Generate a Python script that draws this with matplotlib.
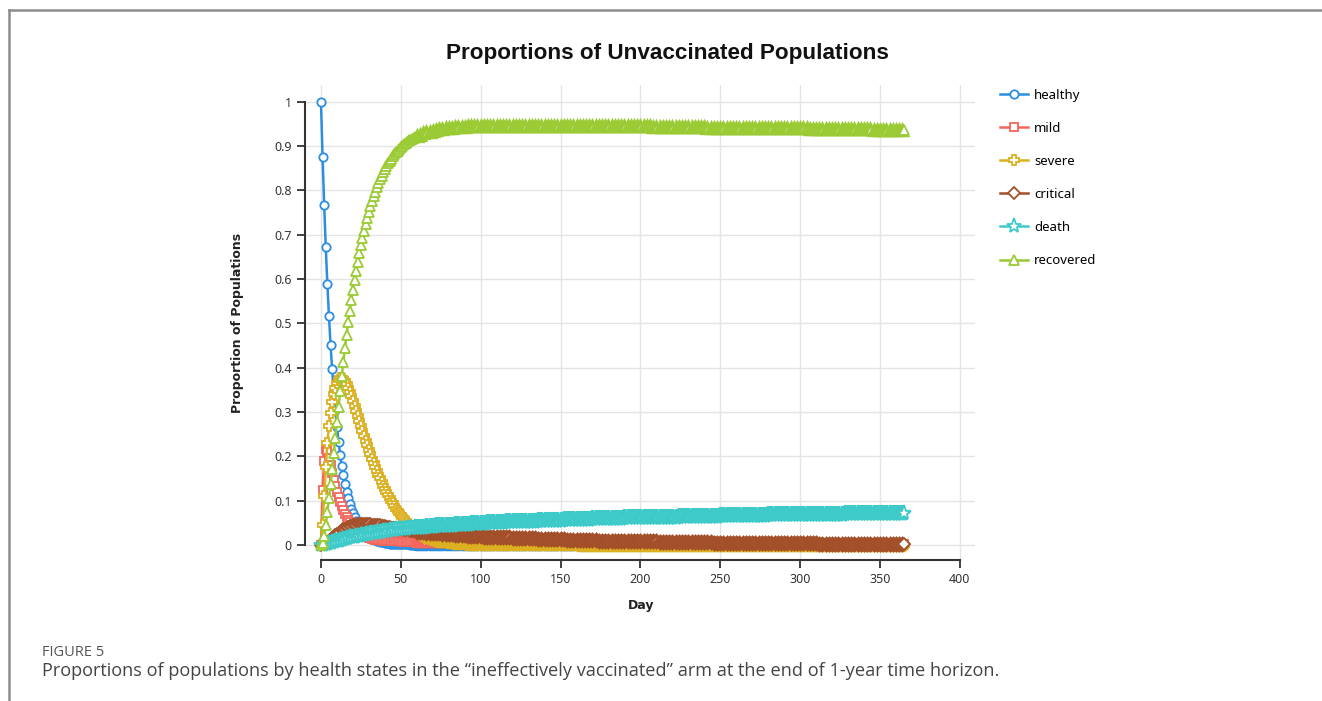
import matplotlib
matplotlib.use("Agg")
import matplotlib.pyplot as plt
from matplotlib.lines import Line2D

# daily output for the first two months, every second day afterwards
days = list(range(0, 61)) + list(range(62, 365, 2)) + [365]

healthy = [
    1.000, 0.876, 0.767, 0.672, 0.589, 0.516, 0.452, 0.396, 0.347, 0.304,
    0.266, 0.233, 0.204, 0.179, 0.157, 0.137, 0.120, 0.105, 0.092, 0.081,
    0.071, 0.062, 0.054, 0.048, 0.042, 0.036, 0.032, 0.028, 0.024, 0.021,
    0.019, 0.016, 0.014, 0.013, 0.011, 0.010, 0.008, 0.007, 0.006, 0.006,
    0.005, 0.004, 0.004, 0.003, 0.003, 0.003, 0.002, 0.002, 0.002, 0.002,
    0.001, 0.001, 0.001, 0.001, 0.001, 0.001, 0.000, 0.000, 0.000, 0.000,
    0.000,
    # day 62 onwards
    0, 0, 0, 0, 0, 0, 0, 0, 0, 0,
    0, 0, 0, 0, 0, 0, 0, 0, 0, 0,
    0, 0, 0, 0, 0, 0, 0, 0, 0, 0,
    0, 0, 0, 0, 0, 0, 0, 0, 0, 0,
    0, 0, 0, 0, 0, 0, 0, 0, 0, 0,
    0, 0, 0, 0, 0, 0, 0, 0, 0, 0,
    0, 0, 0, 0, 0, 0, 0, 0, 0, 0,
    0, 0, 0, 0, 0, 0, 0, 0, 0, 0,
    0, 0, 0, 0, 0, 0, 0, 0, 0, 0,
    0, 0, 0, 0, 0, 0, 0, 0, 0, 0,
    0, 0, 0, 0, 0, 0, 0, 0, 0, 0,
    0, 0, 0, 0, 0, 0, 0, 0, 0, 0,
    0, 0, 0, 0, 0, 0, 0, 0, 0, 0,
    0, 0, 0, 0, 0, 0, 0, 0, 0, 0,
    0, 0, 0, 0, 0, 0, 0, 0, 0, 0,
    0, 0, 0,
]

mild = [
    0.000, 0.125, 0.190, 0.216, 0.212, 0.197, 0.180, 0.163, 0.147, 0.133,
    0.120, 0.108, 0.097, 0.087, 0.078, 0.070, 0.063, 0.057, 0.051, 0.046,
    0.041, 0.037, 0.033, 0.030, 0.027, 0.024, 0.022, 0.020, 0.018, 0.017,
    0.016, 0.015, 0.014, 0.013, 0.012, 0.012, 0.011, 0.011, 0.010, 0.010,
    0.010, 0.009, 0.009, 0.009, 0.009, 0.008, 0.008, 0.008, 0.008, 0.008,
    0.008, 0.007, 0.007, 0.007, 0.007, 0.007, 0.007, 0.007, 0.007, 0.007,
    0.007,
    0.007, 0.007, 0.007, 0.007, 0.007, 0.006, 0.006, 0.006, 0.006, 0.006,
    0.006, 0.006, 0.006, 0.006, 0.006, 0.005, 0.005, 0.005, 0.005, 0.005,
    0.005, 0.005, 0.005, 0.005, 0.005, 0.005, 0.005, 0.005, 0.005, 0.005,
    0.005, 0.005, 0.005, 0.005, 0.005, 0.005, 0.005, 0.005, 0.005, 0.005,
    0.005, 0.005, 0.005, 0.005, 0.005, 0.005, 0.005, 0.005, 0.005, 0.005,
    0.004, 0.004, 0.004, 0.004, 0.004, 0.004, 0.004, 0.004, 0.004, 0.004,
    0.004, 0.004, 0.004, 0.004, 0.004, 0.004, 0.004, 0.004, 0.004, 0.004,
    0.004, 0.004, 0.004, 0.004, 0.004, 0.004, 0.004, 0.004, 0.004, 0.004,
    0.004, 0.004, 0.004, 0.004, 0.004, 0.004, 0.004, 0.004, 0.004, 0.004,
    0.003, 0.003, 0.003, 0.003, 0.003, 0.003, 0.003, 0.003, 0.003, 0.003,
    0.003, 0.003, 0.003, 0.003, 0.003, 0.003, 0.003, 0.003, 0.003, 0.003,
    0.003, 0.003, 0.003, 0.003, 0.003, 0.003, 0.003, 0.003, 0.003, 0.003,
    0.003, 0.003, 0.003, 0.003, 0.003, 0.003, 0.003, 0.003, 0.003, 0.003,
    0.002, 0.002, 0.002, 0.002, 0.002, 0.002, 0.002, 0.002, 0.002, 0.002,
    0.002, 0.002, 0.002, 0.002, 0.002, 0.002, 0.002, 0.002, 0.002, 0.002,
    0.002, 0.002, 0.002,
]

severe = [
    0.000, 0.045, 0.110, 0.175, 0.230, 0.268, 0.298, 0.322, 0.341, 0.355,
    0.365, 0.372, 0.376, 0.377, 0.375, 0.370, 0.363, 0.355, 0.345, 0.335,
    0.324, 0.313, 0.302, 0.291, 0.280, 0.268, 0.257, 0.246, 0.235, 0.225,
    0.215, 0.205, 0.195, 0.185, 0.176, 0.167, 0.158, 0.150, 0.142, 0.134,
    0.127, 0.120, 0.113, 0.106, 0.100, 0.094, 0.088, 0.082, 0.077, 0.072,
    0.067, 0.062, 0.058, 0.054, 0.050, 0.046, 0.043, 0.040, 0.037, 0.034,
    0.031,
    0.027, 0.023, 0.019, 0.016, 0.014, 0.012, 0.010, 0.009, 0.008, 0.007,
    0.006, 0.005, 0.005, 0.004, 0.004, 0.003, 0.003, 0.003, 0.002, 0.002,
    0.002, 0.002, 0.002, 0.002, 0.002, 0.001, 0.001, 0.001, 0.001, 0.001,
    0.001, 0.001, 0.001, 0.001, 0.001, 0.001, 0.001, 0.001, 0.001, 0.001,
    0.001, 0.001, 0.001, 0.001, 0.001, 0.001, 0.001, 0.001, 0.001, 0.001,
    0, 0, 0, 0, 0, 0, 0, 0, 0, 0,
    0, 0, 0, 0, 0, 0, 0, 0, 0, 0,
    0, 0, 0, 0, 0, 0, 0, 0, 0, 0,
    0, 0, 0, 0, 0, 0, 0, 0, 0, 0,
    0, 0, 0, 0, 0, 0, 0, 0, 0, 0,
    0, 0, 0, 0, 0, 0, 0, 0, 0, 0,
    0, 0, 0, 0, 0, 0, 0, 0, 0, 0,
    0, 0, 0, 0, 0, 0, 0, 0, 0, 0,
    0, 0, 0, 0, 0, 0, 0, 0, 0, 0,
    0, 0, 0, 0, 0, 0, 0, 0, 0, 0,
    0, 0, 0,
]

critical = [
    0.000, 0.001, 0.002, 0.004, 0.007, 0.010, 0.013, 0.016, 0.019, 0.022,
    0.025, 0.028, 0.030, 0.033, 0.035, 0.037, 0.039, 0.041, 0.042, 0.043,
    0.044, 0.045, 0.046, 0.047, 0.047, 0.048, 0.048, 0.048, 0.048, 0.048,
    0.047, 0.047, 0.046, 0.046, 0.045, 0.045, 0.044, 0.044, 0.043, 0.042,
    0.042, 0.041, 0.040, 0.040, 0.039, 0.038, 0.038, 0.037, 0.036, 0.036,
    0.035, 0.035, 0.034, 0.034, 0.033, 0.033, 0.032, 0.032, 0.031, 0.031,
    0.030,
    0.030, 0.029, 0.028, 0.028, 0.027, 0.026, 0.026, 0.025, 0.025, 0.024,
    0.024, 0.023, 0.023, 0.022, 0.022, 0.021, 0.021, 0.020, 0.020, 0.020,
    0.019, 0.019, 0.019, 0.018, 0.018, 0.018, 0.017, 0.017, 0.017, 0.016,
    0.016, 0.016, 0.016, 0.015, 0.015, 0.015, 0.015, 0.014, 0.014, 0.014,
    0.014, 0.013, 0.013, 0.013, 0.013, 0.013, 0.012, 0.012, 0.012, 0.012,
    0.012, 0.011, 0.011, 0.011, 0.011, 0.011, 0.010, 0.010, 0.010, 0.010,
    0.010, 0.010, 0.009, 0.009, 0.009, 0.009, 0.009, 0.009, 0.008, 0.008,
    0.008, 0.008, 0.008, 0.008, 0.008, 0.007, 0.007, 0.007, 0.007, 0.007,
    0.007, 0.007, 0.007, 0.006, 0.006, 0.006, 0.006, 0.006, 0.006, 0.006,
    0.006, 0.006, 0.005, 0.005, 0.005, 0.005, 0.005, 0.005, 0.005, 0.005,
    0.005, 0.005, 0.005, 0.005, 0.004, 0.004, 0.004, 0.004, 0.004, 0.004,
    0.004, 0.004, 0.004, 0.004, 0.004, 0.004, 0.004, 0.004, 0.004, 0.004,
    0.004, 0.004, 0.004, 0.004, 0.004, 0.003, 0.003, 0.003, 0.003, 0.003,
    0.003, 0.003, 0.003, 0.003, 0.003, 0.003, 0.003, 0.003, 0.003, 0.003,
    0.003, 0.003, 0.003, 0.003, 0.003, 0.003, 0.003, 0.003, 0.003, 0.003,
    0.003, 0.003, 0.003,
]

death = [
    0.000, 0.000, 0.001, 0.002, 0.003, 0.004, 0.005, 0.006, 0.007, 0.008,
    0.009, 0.010, 0.011, 0.012, 0.013, 0.014, 0.015, 0.016, 0.017, 0.017,
    0.018, 0.019, 0.020, 0.020, 0.021, 0.022, 0.023, 0.023, 0.024, 0.025,
    0.025, 0.026, 0.027, 0.027, 0.028, 0.028, 0.029, 0.030, 0.030, 0.031,
    0.031, 0.032, 0.032, 0.033, 0.033, 0.034, 0.034, 0.035, 0.035, 0.036,
    0.036, 0.036, 0.037, 0.037, 0.038, 0.038, 0.039, 0.039, 0.039, 0.040,
    0.040,
    0.041, 0.041, 0.042, 0.043, 0.043, 0.044, 0.044, 0.045, 0.045, 0.046,
    0.046, 0.047, 0.047, 0.048, 0.048, 0.048, 0.049, 0.049, 0.050, 0.050,
    0.050, 0.051, 0.051, 0.051, 0.052, 0.052, 0.052, 0.053, 0.053, 0.053,
    0.054, 0.054, 0.054, 0.054, 0.055, 0.055, 0.055, 0.056, 0.056, 0.056,
    0.056, 0.057, 0.057, 0.057, 0.057, 0.058, 0.058, 0.058, 0.058, 0.059,
    0.059, 0.059, 0.059, 0.059, 0.060, 0.060, 0.060, 0.060, 0.060, 0.061,
    0.061, 0.061, 0.061, 0.061, 0.062, 0.062, 0.062, 0.062, 0.062, 0.063,
    0.063, 0.063, 0.063, 0.063, 0.063, 0.064, 0.064, 0.064, 0.064, 0.064,
    0.064, 0.065, 0.065, 0.065, 0.065, 0.065, 0.065, 0.066, 0.066, 0.066,
    0.066, 0.066, 0.066, 0.066, 0.067, 0.067, 0.067, 0.067, 0.067, 0.067,
    0.067, 0.068, 0.068, 0.068, 0.068, 0.068, 0.068, 0.068, 0.068, 0.069,
    0.069, 0.069, 0.069, 0.069, 0.069, 0.069, 0.069, 0.069, 0.069, 0.069,
    0.069, 0.069, 0.070, 0.070, 0.070, 0.070, 0.070, 0.070, 0.070, 0.070,
    0.070, 0.070, 0.070, 0.071, 0.071, 0.071, 0.071, 0.071, 0.071, 0.071,
    0.071, 0.071, 0.071, 0.071, 0.071, 0.071, 0.071, 0.071, 0.071, 0.071,
    0.071, 0.071, 0.071,
]

recovered = [
    0.000, 0.004, 0.020, 0.045, 0.075, 0.105, 0.138, 0.172, 0.207, 0.242,
    0.277, 0.312, 0.347, 0.381, 0.413, 0.444, 0.474, 0.502, 0.528, 0.553,
    0.576, 0.598, 0.619, 0.639, 0.658, 0.676, 0.693, 0.709, 0.724, 0.738,
    0.751, 0.764, 0.776, 0.787, 0.797, 0.807, 0.816, 0.825, 0.833, 0.841,
    0.848, 0.855, 0.861, 0.867, 0.872, 0.877, 0.882, 0.886, 0.890, 0.894,
    0.898, 0.901, 0.904, 0.907, 0.910, 0.913, 0.915, 0.917, 0.919, 0.921,
    0.923,
    0.926, 0.929, 0.931, 0.933, 0.935, 0.937, 0.938, 0.939, 0.940, 0.941,
    0.942, 0.943, 0.943, 0.944, 0.944, 0.945, 0.945, 0.945, 0.946, 0.946,
    0.946, 0.946, 0.946, 0.946, 0.946, 0.946, 0.946, 0.946, 0.946, 0.946,
    0.946, 0.946, 0.946, 0.946, 0.946, 0.946, 0.946, 0.946, 0.946, 0.946,
    0.946, 0.946, 0.946, 0.946, 0.946, 0.946, 0.946, 0.946, 0.946, 0.946,
    0.946, 0.946, 0.946, 0.946, 0.946, 0.945, 0.945, 0.945, 0.945, 0.945,
    0.945, 0.945, 0.945, 0.945, 0.945, 0.945, 0.945, 0.945, 0.945, 0.945,
    0.945, 0.945, 0.945, 0.944, 0.944, 0.944, 0.944, 0.944, 0.944, 0.944,
    0.944, 0.944, 0.943, 0.943, 0.943, 0.943, 0.943, 0.943, 0.943, 0.943,
    0.942, 0.942, 0.942, 0.942, 0.942, 0.942, 0.942, 0.942, 0.942, 0.942,
    0.942, 0.942, 0.941, 0.941, 0.941, 0.941, 0.941, 0.941, 0.941, 0.940,
    0.940, 0.940, 0.940, 0.940, 0.940, 0.940, 0.940, 0.940, 0.940, 0.940,
    0.940, 0.940, 0.939, 0.939, 0.939, 0.939, 0.939, 0.939, 0.939, 0.939,
    0.938, 0.938, 0.938, 0.938, 0.938, 0.938, 0.938, 0.938, 0.938, 0.938,
    0.938, 0.938, 0.937, 0.937, 0.937, 0.937, 0.937, 0.937, 0.937, 0.937,
    0.937, 0.937, 0.937,
]

labels = ["healthy", "mild", "severe", "critical", "death", "recovered"]
series = [healthy, mild, severe, critical, death, recovered]
colors = ["#2b8ee0", "#f2665d", "#dcb020", "#a24f2a", "#3fcaca", "#9acb34"]
markers = ["o", "s", "P", "D", "*", "^"]
msizes = [6, 6, 7.5, 6, 11, 6.5]

for name, vals in zip(labels, series):
    assert len(vals) == len(days), (name, len(vals), len(days))

W, H = 1322, 701
fig = plt.figure(figsize=(W / 100, H / 100), dpi=100)
fig.patch.set_facecolor("white")

ax = fig.add_axes([305 / W, 1 - 560 / H, (975 - 305) / W, (560 - 85) / H])
ax.set_xlim(-10, 409.5)
ax.set_ylim(-0.034, 1.038)

# the sparser tail gets heavier marker outlines so the run of
# overlapping markers reads as one continuous band
split = days.index(60)
for name, vals, c, m, ms in zip(labels, series, colors, markers, msizes):
    ax.plot(days, vals, color=c, lw=1.8, marker=m, ms=ms,
            markevery=slice(0, split), mfc="white", mec=c, mew=1.3,
            label=name)
    ax.plot(days[split:-1], vals[split:-1], ls="none", marker=m, ms=ms,
            mfc="white", mec=c, mew=2.4)
    ax.plot(days[-1:], vals[-1:], ls="none", marker=m, ms=ms,
            mfc="white", mec=c, mew=1.3)

ax.set_xticks(range(0, 401, 50))
ax.set_yticks([i / 10 for i in range(11)])
ax.set_yticklabels(["0", "0.1", "0.2", "0.3", "0.4", "0.5", "0.6",
                    "0.7", "0.8", "0.9", "1"])
ax.grid(True, color="#e4e4e4", lw=1)
ax.set_axisbelow(True)

for s in ["top", "right"]:
    ax.spines[s].set_visible(False)
ax.spines["left"].set_bounds(0, 1)
ax.spines["bottom"].set_bounds(0, 400)
for s in ["left", "bottom"]:
    ax.spines[s].set_color("#333333")
    ax.spines[s].set_linewidth(1.5)
ax.tick_params(direction="out", length=6, width=1.3, color="#333333",
               labelcolor="#333333", labelsize=9)
for t in ax.get_xticklabels() + ax.get_yticklabels():
    t.set_fontfamily("Noto Sans")

ax.legend(loc="upper left", bbox_to_anchor=(988 / W, 1 - 77 / H),
          bbox_transform=fig.transFigure, frameon=False,
          prop={"family": "Noto Sans", "size": 9.5},
          labelspacing=1.52, handlelength=2.1, handletextpad=0.5)

fig.text(667 / W, 1 - 54 / H, "Proportions of Unvaccinated Populations",
         ha="center", va="center", fontsize=16.2, fontweight="bold",
         family="Liberation Sans", color="#111111")
fig.text(237 / W, 1 - 323 / H, "Proportion of Populations", rotation=90,
         ha="center", va="center", fontsize=9, fontweight="bold",
         family="DejaVu Sans", color="#222222")
fig.text(641 / W, 1 - 606 / H, "Day", ha="center", va="center",
         fontsize=9, fontweight="bold", family="DejaVu Sans",
         color="#222222")

# page frame and figure caption
fig.add_artist(Line2D([9 / W, 9 / W], [0, 1 - 10 / H],
                      transform=fig.transFigure, color="#8c8c8c", lw=1.8))
fig.add_artist(Line2D([9 / W, 1], [1 - 10 / H, 1 - 10 / H],
                      transform=fig.transFigure, color="#8c8c8c", lw=1.8))
fig.text(42 / W, 1 - 653 / H, "FIGURE 5", ha="left", va="center",
         fontsize=10.5, family="Open Sans", color="#555555")
fig.text(42 / W, 1 - 671 / H,
         "Proportions of populations by health states in the \u201cineffectively "
         "vaccinated\u201d arm at the end of 1-year time horizon.",
         ha="left", va="center", fontsize=13.05, family="Open Sans",
         color="#444444")

fig.savefig("out.png", dpi=100)
